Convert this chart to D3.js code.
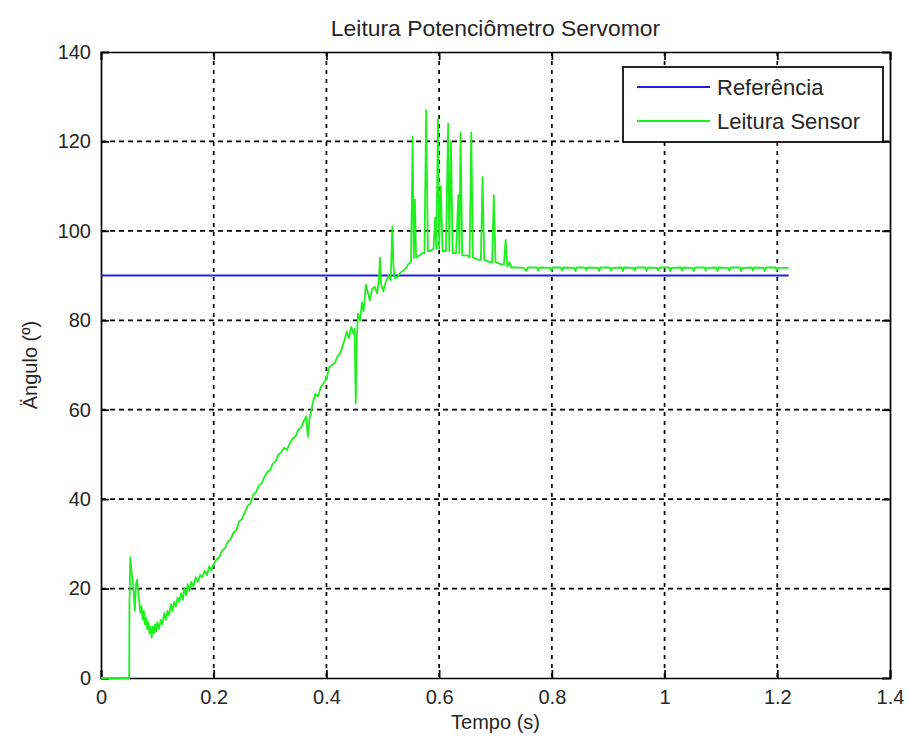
<!DOCTYPE html>
<html>
<head>
<meta charset="utf-8">
<script src="https://cdn.jsdelivr.net/npm/d3@7"></script>
<style>
  body { margin: 0; background: #fff; }
  #graphicContainer { width: 911px; height: 742px; }
  text { font-family: "Liberation Sans", Arial, sans-serif; fill: #262626; }
</style>
</head>
<body>
<div id="graphicContainer"></div>
<script>
var titulo = "Leitura Potenciômetro Servomor"
var xLabel = "Tempo (s)"
var yLabel = "Ängulo (º)"
var legendNames = ["Referência", "Leitura Sensor"]

var xTicks = [0, 0.2, 0.4, 0.6, 0.8, 1, 1.2, 1.4]
var xTickLabels = ["0", "0.2", "0.4", "0.6", "0.8", "1", "1.2", "1.4"]
var yTicks = [0, 20, 40, 60, 80, 100, 120, 140]

// referencia: degrau constante
var refTempo = [0, 1.22]
var refAngulo = [90, 90]

// leitura do sensor
var sensorTempo = [
  0, 0.050, 0.0505, 0.051, 0.052, 0.054, 0.056, 0.058, 0.060, 0.062,
  0.064, 0.066, 0.068, 0.070, 0.072, 0.074, 0.076, 0.078, 0.080, 0.082,
  0.084, 0.086, 0.088, 0.090, 0.092, 0.094, 0.096, 0.098, 0.100, 0.103,
  0.106, 0.109, 0.112, 0.115, 0.118, 0.121, 0.124, 0.127, 0.130, 0.133,
  0.136, 0.139, 0.142, 0.145, 0.148, 0.151, 0.154, 0.157, 0.160, 0.164,
  0.168, 0.172, 0.176, 0.180, 0.184, 0.188, 0.192, 0.196, 0.200, 0.205,
  0.210, 0.215, 0.220, 0.225, 0.230, 0.235, 0.240, 0.245, 0.250, 0.255,
  0.260, 0.265, 0.270, 0.275, 0.280, 0.285, 0.290, 0.295, 0.300, 0.305,
  0.310, 0.315, 0.320, 0.325, 0.330, 0.335, 0.340, 0.345, 0.350, 0.355,
  0.360, 0.364, 0.367, 0.370, 0.375, 0.380, 0.385, 0.390, 0.395, 0.400,
  0.405, 0.410, 0.415, 0.420, 0.424, 0.428, 0.432, 0.436, 0.440, 0.444,
  0.448, 0.450, 0.452, 0.454, 0.456, 0.460, 0.463, 0.466, 0.470, 0.474,
  0.477, 0.481, 0.486, 0.490, 0.493, 0.495, 0.497, 0.501, 0.505, 0.510,
  0.514, 0.517, 0.519, 0.521, 0.525, 0.530, 0.535, 0.540, 0.545, 0.550,
  0.553, 0.555, 0.557, 0.559, 0.565, 0.570, 0.574, 0.577, 0.580, 0.585,
  0.590, 0.593, 0.595, 0.598, 0.600, 0.603, 0.606, 0.612, 0.616, 0.618,
  0.621, 0.624, 0.630, 0.634, 0.636, 0.638, 0.641, 0.650, 0.654, 0.657,
  0.660, 0.670, 0.674, 0.677, 0.680, 0.690, 0.694, 0.697, 0.700, 0.710,
  0.715, 0.718, 0.721, 0.725, 0.728, 0.740, 0.750, 0.755, 0.757, 0.774,
  0.776, 0.778, 0.797, 0.799, 0.801, 0.816, 0.818, 0.820, 0.840, 0.842,
  0.844, 0.859, 0.861, 0.863, 0.882, 0.884, 0.886, 0.903, 0.905, 0.907,
  0.924, 0.926, 0.928, 0.945, 0.947, 0.949, 0.966, 0.968, 0.970, 0.987,
  0.989, 0.991, 1.008, 1.010, 1.012, 1.029, 1.031, 1.033, 1.050, 1.052,
  1.054, 1.071, 1.073, 1.075, 1.092, 1.094, 1.096, 1.113, 1.115, 1.117,
  1.134, 1.136, 1.138, 1.155, 1.157, 1.159, 1.176, 1.178, 1.180, 1.197,
  1.199, 1.201, 1.220
]
var sensorAngulo = [
  0, 0, 17, 19, 27, 24, 22, 19, 15, 21,
  22, 19, 17, 14.5, 16, 13, 15, 12, 13.5, 11,
  12.5, 10, 11.5, 9, 11.5, 10, 12, 10.5, 12.5, 11,
  13, 12, 14.5, 13, 15, 14, 16.5, 15, 17, 16,
  18, 17, 19, 17.5, 20, 18.5, 21, 19.5, 21.5, 20.5,
  22.5, 21.5, 23, 22.5, 24, 23, 25, 24, 25.5, 26.5,
  27, 28.5, 29, 30.5, 31, 32.5, 33, 35, 35.5, 37,
  38.5, 39, 41, 41.5, 43, 43.5, 45, 46, 46.5, 48,
  48.5, 50, 50.5, 51.5, 51, 52.5, 53.5, 54, 55.5, 56,
  57.5, 58.5, 54, 58, 61, 63.5, 63, 65, 66, 67,
  69.5, 70, 70.5, 72, 72.5, 74, 75.5, 77.5, 76, 78.5,
  77, 78, 61.5, 76, 81.5, 80, 84, 82, 88, 86,
  84.5, 87, 87.5, 86, 89, 94, 88, 86.5, 88.5, 90,
  89, 101, 92, 89.5, 89.5, 90.5, 91, 91.5, 92.5, 93,
  121, 94, 107, 94, 94.5, 95, 95, 127, 95.5, 95.5,
  96, 103, 96, 125, 96, 110, 95.5, 95.5, 124, 95.5,
  120, 95, 95, 108, 95, 122, 94.5, 94.5, 94, 122,
  94, 93.5, 93.5, 112, 93.5, 93, 93, 108, 93, 92.5,
  92.5, 98, 92, 93, 91.8, 91.8, 91.7, 91.0, 91.8, 91.8,
  91.1, 91.8, 91.7, 91.0, 91.8, 91.8, 91.1, 91.8, 91.7, 91.0,
  91.8, 91.8, 91.2, 91.8, 91.7, 91.0, 91.8, 91.8, 91.1, 91.7,
  91.8, 91.0, 91.8, 91.7, 91.1, 91.8, 91.8, 91.0, 91.8, 91.7,
  91.1, 91.8, 91.8, 91.0, 91.7, 91.8, 91.1, 91.8, 91.7, 91.0,
  91.8, 91.8, 91.1, 91.7, 91.8, 91.0, 91.8, 91.7, 91.1, 91.8,
  91.8, 91.0, 91.7, 91.8, 91.1, 91.8, 91.7, 91.0, 91.8, 91.8,
  91.1, 91.7, 91.7
]

var margin = { top: 52, right: 21, bottom: 64, left: 101 }
var width = 911 - margin.left - margin.right
var height = 742 - margin.top - margin.bottom

var svg = d3.select("#graphicContainer")
  .append("svg")
  .attr("width", 911)
  .attr("height", 742)

var x = d3.scaleLinear().domain([0, 1.4]).range([0, width])
var y = d3.scaleLinear().domain([0, 140]).range([height, 0])

var g = svg.append("g")
  .attr("transform", "translate(" + margin.left + "," + margin.top + ")")

// grid
g.selectAll(".vgrid")
  .data(xTicks.slice(1, -1))
  .join("line")
  .attr("x1", d => x(d)).attr("x2", d => x(d))
  .attr("y1", 0).attr("y2", height)
  .attr("stroke", "#000")
  .attr("stroke-width", 1.7)
  .attr("stroke-dasharray", "4,5")

g.selectAll(".hgrid")
  .data(yTicks.slice(1, -1))
  .join("line")
  .attr("x1", 0).attr("x2", width)
  .attr("y1", d => y(d)).attr("y2", d => y(d))
  .attr("stroke", "#000")
  .attr("stroke-width", 1.7)
  .attr("stroke-dasharray", "5,4")

// eixos com ticks para dentro
g.append("g")
  .attr("transform", "translate(0," + height + ")")
  .call(d3.axisBottom(x).tickValues(xTicks).tickSize(-8).tickPadding(12)
    .tickFormat((d, i) => xTickLabels[i]))
g.append("g")
  .call(d3.axisTop(x).tickValues(xTicks).tickSize(-8).tickFormat(""))
g.append("g")
  .call(d3.axisLeft(y).tickValues(yTicks).tickSize(-8).tickPadding(10))
g.append("g")
  .attr("transform", "translate(" + width + ",0)")
  .call(d3.axisRight(y).tickValues(yTicks).tickSize(-8).tickFormat(""))

g.selectAll(".domain").attr("stroke", "#000").attr("stroke-width", 1.7)
g.selectAll(".tick line").attr("stroke", "#000").attr("stroke-width", 1.7)
g.selectAll(".tick text")
  .style("font-family", "'Liberation Sans', Arial, sans-serif")
  .style("font-size", "20px")
  .attr("fill", "#262626")

// linhas
var line = d3.line()
  .x(d => x(d[0]))
  .y(d => y(d[1]))

g.append("path")
  .datum(refTempo.map((t, i) => [t, refAngulo[i]]))
  .attr("d", line)
  .attr("fill", "none")
  .attr("stroke", "#2020e8")
  .attr("stroke-width", 2)

g.append("path")
  .datum(sensorTempo.map((t, i) => [t, sensorAngulo[i]]))
  .attr("d", line)
  .attr("fill", "none")
  .attr("stroke", "#1ef01e")
  .attr("stroke-width", 1.8)
  .attr("stroke-linejoin", "round")

// titulo e rotulos
svg.append("text")
  .attr("x", margin.left + width / 2)
  .attr("y", 36)
  .attr("text-anchor", "middle")
  .style("font-size", "22px")
  .attr("transform", "translate(" + (margin.left + width / 2) + ",0) scale(1.04,1) translate(" + -(margin.left + width / 2) + ",0)")
  .text(titulo)

svg.append("text")
  .attr("x", margin.left + width / 2)
  .attr("y", 729)
  .attr("text-anchor", "middle")
  .style("font-size", "20px")
  .text(xLabel)

svg.append("text")
  .attr("transform", "translate(37," + (margin.top + height / 2) + ") rotate(-90)")
  .attr("text-anchor", "middle")
  .style("font-size", "20px")
  .text(yLabel)

// legenda
var leg = svg.append("g").attr("transform", "translate(623,67)")
leg.append("rect")
  .attr("width", 260).attr("height", 75)
  .attr("fill", "#fff").attr("stroke", "#000").attr("stroke-width", 1.7)

var legColors = ["#2020e8", "#1ef01e"]
var item = leg.selectAll(".item")
  .data(legendNames)
  .join("g")
  .attr("transform", (d, i) => "translate(0," + (20 + i * 34) + ")")
item.append("line")
  .attr("x1", 14).attr("x2", 87)
  .attr("stroke", (d, i) => legColors[i])
  .attr("stroke-width", 2)
item.append("text")
  .attr("x", 94).attr("y", 8)
  .style("font-size", "22px")
  .text(d => d)
</script>
</body>
</html>
